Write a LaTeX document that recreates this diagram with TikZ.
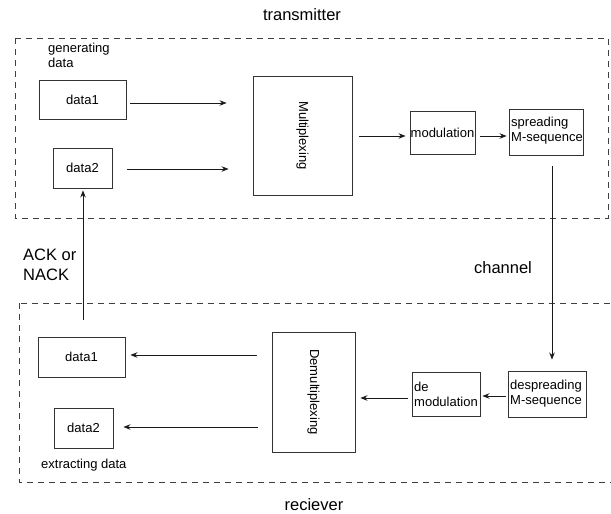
\documentclass[tikz,border=0pt]{standalone}
\usepackage{fontspec}
\setmainfont{Liberation Sans}
\usetikzlibrary{arrows.meta}
\begin{document}
\begin{tikzpicture}[x=1pt,y=-1pt,
  blk/.style={draw=black!80, line width=0.9pt, inner sep=0pt},
  small/.style={font=\fontsize{13}{15}\selectfont},
  big/.style={font=\fontsize{16.5}{20}\selectfont},
  flow/.style={-{Stealth[length=7pt,width=5.5pt]}, line width=0.9pt, draw=black!90},
  region/.style={draw=black!75, dash pattern=on 6pt off 5pt, line width=0.8pt}]
\useasboundingbox (0,0) rectangle (611,514);

% dashed regions
\draw[region] (15,38) rectangle (608,218);
\draw[region] (19,303) rectangle (625,482);

% transmitter side
\node[blk, small, minimum width=87, minimum height=39] (tx1) at (82.5,99.5) {data1};
\node[blk, small, minimum width=59, minimum height=40] (tx2) at (82.5,168) {data2};
\node[blk, minimum width=99, minimum height=119] (mux) at (302.5,135.5) {};
\node[small, rotate=-90] (muxt) at (mux.center) {Multiplexing};
\node[blk, small, minimum width=65, minimum height=43] (mod) at (442.5,132.5) {modulation};
\node[blk, minimum width=74, minimum height=46] (spr) at (546,132) {};
\node[small, anchor=west, align=left, inner sep=0pt] (sprt) at (511,131) {spreading\\M-sequence};

% receiver side
\node[blk, small, minimum width=87, minimum height=40] (rx1) at (81.5,357) {data1};
\node[blk, small, minimum width=59, minimum height=40] (rx2) at (83.5,428) {data2};
\node[blk, minimum width=83, minimum height=120] (dmux) at (313.5,392) {};
\node[small, rotate=-90] (dmuxt) at (dmux.center) {Demultiplexing};
\node[blk, minimum width=68, minimum height=44] (dmod) at (446,394) {};
\node[small, anchor=west, align=left, inner sep=0pt] (dmodt) at (414,394) {de\\modulation};
\node[blk, minimum width=78, minimum height=46] (dspr) at (547,394) {};
\node[small, anchor=west, align=left, inner sep=0pt] (dsprt) at (510,394) {despreading\\M-sequence};

% labels
\node[big] (ttx) at (302,15) {transmitter};
\node[big] (trx) at (314,505) {reciever};
\node[big] (tch) at (503,268) {channel};
\node[big, anchor=west, align=left, inner sep=0pt] (tack) at (23,265) {ACK or\\NACK};
\node[small, anchor=west, align=left, inner sep=0pt] (tgen) at (48,55.5) {generating\\data};
\node[small, anchor=west, inner sep=0pt] (text) at (41,465) {extracting data};

% connectors
\draw[flow, shorten <=4pt, shorten >=26pt] (tx1.east |- 0,103) -- (mux.west |- 0,103);
\draw[flow, shorten <=15pt, shorten >=24pt] (tx2.east |- 0,169) -- (mux.west |- 0,169);
\draw[flow, shorten <=7pt, shorten >=4pt] (mux.east |- 0,136) -- (mod.west |- 0,136);
\draw[flow, shorten <=5pt, shorten >=2pt] (mod.east |- 0,136) -- (spr.west |- 0,136);
\draw[flow, shorten <=11pt, shorten >=11pt] (spr.south -| 552,0) -- (dspr.north -| 552,0);
\draw[flow, shorten <=2pt, shorten >=2pt] (dspr.west |- 0,396) -- (dmod.east |- 0,396);
\draw[flow, shorten <=4pt, shorten >=5pt] (dmod.west |- 0,398) -- (dmux.east |- 0,398);
\draw[flow, shorten <=15pt, shorten >=5pt] (dmux.west |- 0,355) -- (rx1.east |- 0,355);
\draw[flow, shorten <=14pt, shorten >=10pt] (dmux.west |- 0,427) -- (rx2.east |- 0,427);
\draw[flow, shorten <=17pt, shorten >=2pt] (rx1.north -| 83,0) -- (tx2.south -| 83,0);
\end{tikzpicture}
\end{document}
